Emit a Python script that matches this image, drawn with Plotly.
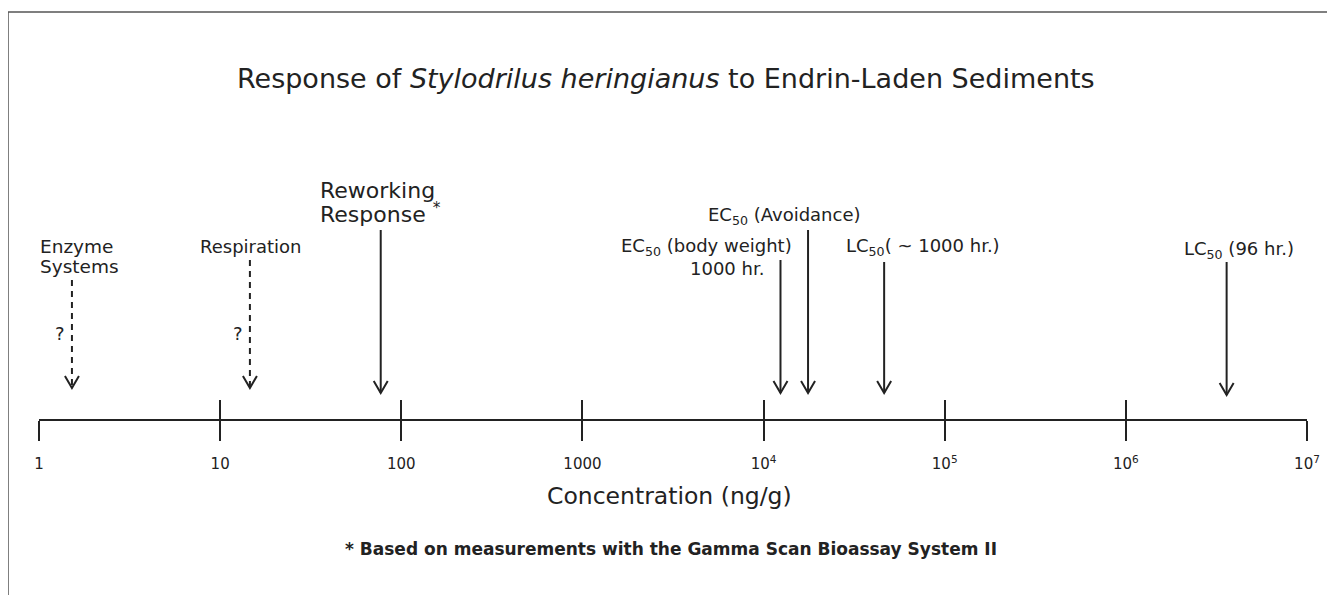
import math
import plotly.graph_objects as go

# ---------------- data ----------------
tick_vals = [1, 10, 100, 1000, 1e4, 1e5, 1e6, 1e7]
tick_text = ["1", "10", "100", "1000", "10<sup>4</sup>", "10<sup>5</sup>", "10<sup>6</sup>", "10<sup>7</sup>"]

response_names = ["Enzyme Systems", "Respiration", "Reworking Response",
                  "EC50 body weight 1000 hr", "EC50 Avoidance",
                  "LC50 ~1000 hr", "LC50 96 hr"]
response_conc = [1.52, 14.6, 77, 12400, 17600, 46300, 3.6e6]
response_certain = [False, False, True, True, True, True, True]

# ---------------- layout helpers (page has an 8px body margin) ----------------
OFF = 8
W, H = 1335 - OFF, 595 - OFF
ML, MR = 39 - OFF, 28
PW = W - ML - MR
decade_px = PW / 7.0
AXIS_Y = 420                      # reference-pixel coordinates on y
arrow_top = [280, 260, 230, 260, 230, 262, 262]
arrow_tip = [388, 388, 393, 393, 393, 393, 395]
HEAD_W, HEAD_H = 7, 12
INK = "#222222"
FONT = "DejaVu Sans"

fig = go.Figure()

f = 10 ** (HEAD_W / decade_px)
for name, x, ok, yt, yb in zip(response_names, response_conc, response_certain, arrow_top, arrow_tip):
    fig.add_trace(go.Scatter(
        x=[x, x], y=[yt, yb], mode="lines", name=name, showlegend=False, hoverinfo="skip",
        line=dict(color=INK, width=2, dash="solid" if ok else "6px,5px")))
    fig.add_trace(go.Scatter(
        x=[x / f, x, x * f], y=[yb - HEAD_H, yb, yb - HEAD_H], mode="lines",
        showlegend=False, hoverinfo="skip", line=dict(color=INK, width=2)))

# invisible trace to carry the overlay axis (upper half of the tick marks)
fig.add_trace(go.Scatter(x=[1, 1e7], y=[AXIS_Y, AXIS_Y], xaxis="x2", mode="lines",
                         line=dict(color="rgba(0,0,0,0)"), showlegend=False, hoverinfo="skip"))

ann = []


def px_of(val):
    return OFF + ML + math.log10(val) * decade_px


def A(text, val, y, size, target, xanchor="center", **kw):
    ann.append(dict(text=text, x=math.log10(val), y=y, xref="x", yref="y",
                    xanchor=xanchor, yanchor="middle", showarrow=False,
                    xshift=target - px_of(val),
                    font=dict(family=FONT, size=size, color=INK), **kw))


def P(text, target, y, size):
    ann.append(dict(text=text, x=(target - OFF - ML) / PW, y=y, xref="paper", yref="y",
                    xanchor="center", yanchor="middle", showarrow=False,
                    font=dict(family=FONT, size=size, color=INK)))


c = response_conc
A("Enzyme", c[0], 246, 18.5, 38, xanchor="left")
A("Systems", c[0], 266, 18.5, 38, xanchor="left")
A("?", c[0], 333, 18, 60)
A("Respiration", c[1], 246, 18, 251)
A("?", c[1], 333, 18, 238)
A("Reworking", c[2], 190, 22, 318, xanchor="left")
A("Response <sup>*</sup>", c[2], 213, 22, 318, xanchor="left")
A("EC<sub>50</sub> (body weight)", c[3], 247, 18, 707)
A("1000 hr.", c[3], 268, 18, 727)
A("EC<sub>50</sub> (Avoidance)", c[4], 216, 18, 785)
A("LC<sub>50</sub>( ~ 1000 hr.)", c[5], 247, 18, 923)
A("LC<sub>50</sub> (96 hr.)", c[6], 250, 18, 1239)

P("Response of <i>Stylodrilus heringianus</i> to Endrin-Laden Sediments", 666, 78, 27)
P("Concentration (ng/g)", 669, 496, 23.5)
P("<b>* Based on measurements with the Gamma Scan Bioassay System II</b>", 671, 549, 17)

shapes = [
    dict(type="line", xref="paper", yref="y", x0=(8 - OFF - ML) / PW, x1=(W + 5 - ML) / PW, y0=12, y1=12,
         line=dict(color="#555555", width=1.5)),
    dict(type="line", xref="paper", yref="y", x0=(8 - OFF - ML) / PW, x1=(8 - OFF - ML) / PW, y0=12, y1=600,
         line=dict(color="#555555", width=1.5)),
]

axis_common = dict(type="log", range=[0, 7], anchor="free", position=1 - (AXIS_Y - OFF) / H,
                   tickvals=tick_vals, showgrid=False, zeroline=False, fixedrange=True,
                   ticklen=20, tickwidth=2, tickcolor=INK)

fig.update_layout(
    width=W, height=H, autosize=False,
    margin=dict(l=ML, r=MR, t=0, b=0),
    paper_bgcolor="white", plot_bgcolor="white",
    xaxis=dict(**axis_common, ticks="outside", ticktext=tick_text, showline=True,
               linecolor=INK, linewidth=2, ticklabelstandoff=10,
               tickfont=dict(family=FONT, size=15, color=INK)),
    xaxis2=dict(**axis_common, overlaying="x", ticks="inside", showticklabels=False, showline=False),
    yaxis=dict(range=[595, OFF], visible=False, fixedrange=True),
    annotations=ann, shapes=shapes, showlegend=False,
)

fig.write_html("out.html")
